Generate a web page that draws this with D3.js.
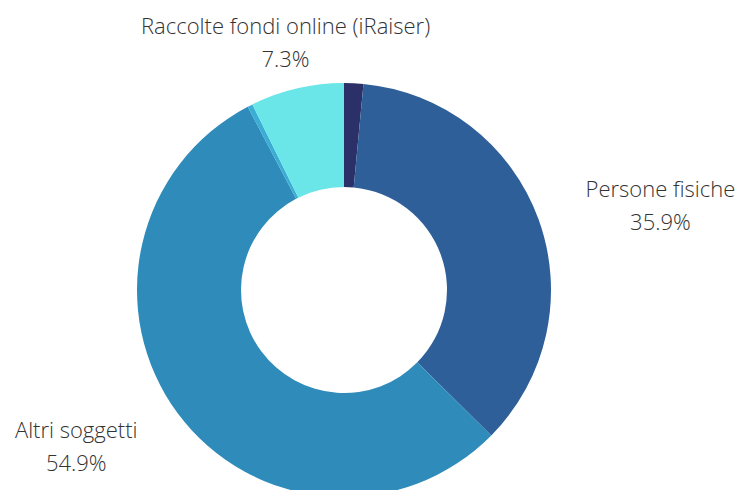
<!DOCTYPE html>
<html>
<head>
<meta charset="utf-8">
<script src="https://cdn.jsdelivr.net/npm/d3@7"></script>
<style>
  body { margin: 0; background: #fff; }
  text { font-family: "Open Sans", sans-serif; font-weight: 300; fill: #333; }
</style>
</head>
<body>
<div id="chart"></div>
<script>
// Slice data, clockwise from 12 o'clock
const labels = ["", "Persone fisiche", "Altri soggetti", "", "Raccolte fondi online (iRaiser)"];
const values = [1.5, 35.9, 54.9, 0.4, 7.3];
const colors = ["#2b3168", "#2e5f99", "#2e8bba", "#3aaed4", "#6ae6e8"];

const width = 742, height = 490;
const cx = 344, cy = 290;
const outerR = 207, innerR = 103, labelR = 257;
const fontSize = 22, lineH = 33;

const svg = d3.select("#chart")
    .append("svg")
    .attr("width", width)
    .attr("height", height);

const slices = d3.pie().sort(null).value(d => d)(values)
    .map((s, i) => ({ ...s, label: labels[i], color: colors[i] }));

const arc = d3.arc().innerRadius(innerR).outerRadius(outerR);
const labelArc = d3.arc().innerRadius(labelR).outerRadius(labelR);

const g = svg.append("g").attr("transform", `translate(${cx},${cy})`);

// Draw slices
g.selectAll("path")
    .data(slices)
    .join("path")
    .attr("d", arc)
    .attr("fill", d => d.color);

// Labels: two centred lines, block anchored by side
const lab = g.selectAll("g.label")
    .data(slices.filter(d => d.label))
    .join("g")
    .attr("class", "label");

lab.each(function(d) {
    const sel = d3.select(this);
    const t1 = sel.append("text").attr("text-anchor", "middle")
        .style("font-size", fontSize + "px").text(d.label);
    const t2 = sel.append("text").attr("text-anchor", "middle")
        .style("font-size", fontSize + "px").text(d.value.toFixed(1) + "%");
    const w = Math.max(t1.node().getComputedTextLength(), t2.node().getComputedTextLength());
    const [px, py] = labelArc.centroid(d);
    const mid = (d.startAngle + d.endAngle) / 2;
    const s = Math.sin(mid);
    let x = px;
    if (s > 0.5) x = px + w / 2;
    else if (s < -0.5) x = px - w / 2;
    const y1 = py - lineH / 2 + fontSize * 0.5;
    t1.attr("x", x).attr("y", y1);
    t2.attr("x", x).attr("y", y1 + lineH);
});
</script>
</body>
</html>
